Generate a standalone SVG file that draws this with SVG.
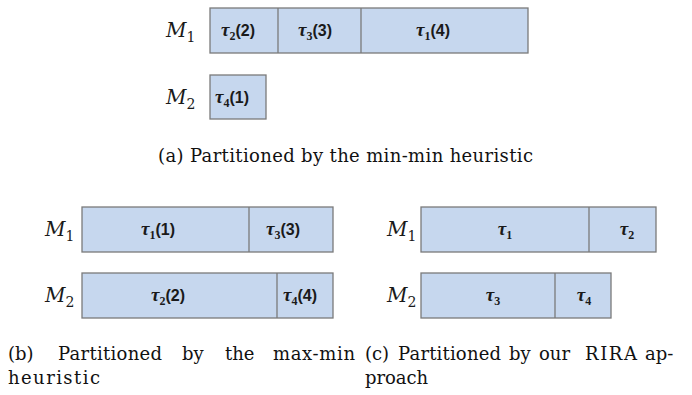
<svg xmlns="http://www.w3.org/2000/svg" width="692" height="395" viewBox="0 0 692 395">
<style>
.box{fill:#c6d7ee;stroke:#7a7a7a;stroke-width:1.3}
.div{stroke:#7a7a7a;stroke-width:1.3}
.t{font-family:"Liberation Sans",Arial,sans-serif;font-weight:bold;font-size:16px;fill:#1a1a1a;text-anchor:middle}
.tau{font-family:"Liberation Serif",serif;font-style:italic;font-weight:bold;font-size:19px}
.sub{font-family:"Liberation Serif",serif;font-weight:bold;font-size:12px}
.m{font-family:"DejaVu Serif",serif;font-style:italic;font-size:20px;fill:#1a1a1a}
.ms{font-family:"DejaVu Serif",serif;font-style:normal;font-size:14px}
.cap{font-family:"DejaVu Serif","Liberation Serif",serif;font-size:18px;fill:#111}
</style>
<rect width="692" height="395" fill="#ffffff"/>

<!-- (a) -->
<g id="a-M1-label"><text class="m" x="166" y="37">M<tspan class="ms" dy="5">1</tspan></text></g>
<g id="a-M2-label"><text class="m" x="166" y="104">M<tspan class="ms" dy="5">2</tspan></text></g>
<g id="a-M1">
<rect class="box" x="210" y="8" width="318" height="45"/>
<line class="div" x1="278" y1="8" x2="278" y2="53"/>
<line class="div" x1="361" y1="8" x2="361" y2="53"/>
<text class="t" x="238" y="36"><tspan class="tau">τ</tspan><tspan class="sub" dy="4">2</tspan><tspan dy="-4">(2)</tspan></text>
<text class="t" x="315" y="36"><tspan class="tau">τ</tspan><tspan class="sub" dy="4">3</tspan><tspan dy="-4">(3)</tspan></text>
<text class="t" x="433" y="36"><tspan class="tau">τ</tspan><tspan class="sub" dy="4">1</tspan><tspan dy="-4">(4)</tspan></text>
</g>
<g id="a-M2">
<rect class="box" x="210" y="75" width="56" height="44"/>
<text class="t" x="232" y="103"><tspan class="tau">τ</tspan><tspan class="sub" dy="4">4</tspan><tspan dy="-4">(1)</tspan></text>
</g>
<g id="cap-a"><text class="cap" x="158" y="162" textLength="375" lengthAdjust="spacing">(a) Partitioned by the min-min heuristic</text></g>

<!-- (b) -->
<g id="b-M1-label"><text class="m" x="45" y="236">M<tspan class="ms" dy="5">1</tspan></text></g>
<g id="b-M2-label"><text class="m" x="45" y="302">M<tspan class="ms" dy="5">2</tspan></text></g>
<g id="b-M1">
<rect class="box" x="82" y="207" width="251" height="45"/>
<line class="div" x1="249" y1="207" x2="249" y2="252"/>
<text class="t" x="158" y="235"><tspan class="tau">τ</tspan><tspan class="sub" dy="4">1</tspan><tspan dy="-4">(1)</tspan></text>
<text class="t" x="283" y="235"><tspan class="tau">τ</tspan><tspan class="sub" dy="4">3</tspan><tspan dy="-4">(3)</tspan></text>
</g>
<g id="b-M2">
<rect class="box" x="82" y="273" width="251" height="45"/>
<line class="div" x1="277" y1="273" x2="277" y2="318"/>
<text class="t" x="168" y="301"><tspan class="tau">τ</tspan><tspan class="sub" dy="4">2</tspan><tspan dy="-4">(2)</tspan></text>
<text class="t" x="300" y="301"><tspan class="tau">τ</tspan><tspan class="sub" dy="4">4</tspan><tspan dy="-4">(4)</tspan></text>
</g>

<!-- (c) -->
<g id="c-M1-label"><text class="m" x="387" y="236">M<tspan class="ms" dy="5">1</tspan></text></g>
<g id="c-M2-label"><text class="m" x="387" y="302">M<tspan class="ms" dy="5">2</tspan></text></g>
<g id="c-M1">
<rect class="box" x="421" y="207" width="235" height="45"/>
<line class="div" x1="589" y1="207" x2="589" y2="252"/>
<text class="t" x="505" y="235"><tspan class="tau">τ</tspan><tspan class="sub" dy="4">1</tspan></text>
<text class="t" x="627" y="235"><tspan class="tau">τ</tspan><tspan class="sub" dy="4">2</tspan></text>
</g>
<g id="c-M2">
<rect class="box" x="421" y="273" width="190" height="45"/>
<line class="div" x1="555" y1="273" x2="555" y2="318"/>
<text class="t" x="493" y="301"><tspan class="tau">τ</tspan><tspan class="sub" dy="4">3</tspan></text>
<text class="t" x="584" y="301"><tspan class="tau">τ</tspan><tspan class="sub" dy="4">4</tspan></text>
</g>

<!-- captions b, c -->
<g id="cap-b">
<text class="cap" x="8" y="360">(b)</text>
<text class="cap" x="58" y="360" textLength="104" lengthAdjust="spacing">Partitioned</text>
<text class="cap" x="182" y="360">by</text>
<text class="cap" x="225" y="360">the</text>
<text class="cap" x="273" y="360" textLength="82" lengthAdjust="spacing">max-min</text>
<text class="cap" x="8" y="384" textLength="92" lengthAdjust="spacing">heuristic</text>
</g>
<g id="cap-c">
<text class="cap" x="365" y="360">(c)</text>
<text class="cap" x="398" y="360" textLength="103" lengthAdjust="spacing">Partitioned</text>
<text class="cap" x="509" y="360">by</text>
<text class="cap" x="539" y="360">our</text>
<text class="cap" x="585" y="360" textLength="52" lengthAdjust="spacing">RIRA</text>
<text class="cap" x="645" y="360">ap-</text>
<text class="cap" x="365" y="384" textLength="63" lengthAdjust="spacing">proach</text>
</g>
</svg>
